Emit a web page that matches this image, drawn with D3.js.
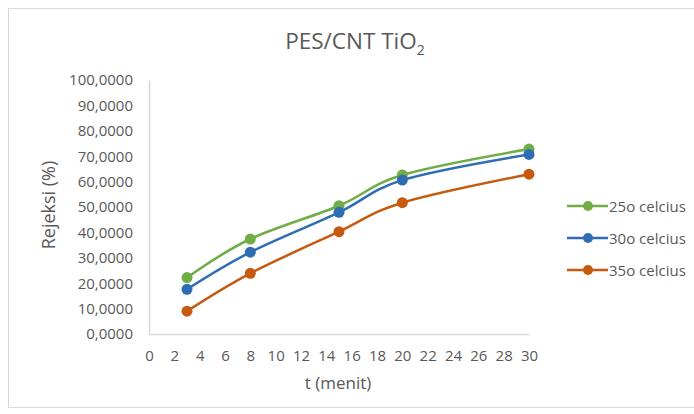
<!DOCTYPE html>
<html>
<head>
<meta charset="utf-8">
<script src="https://cdn.jsdelivr.net/npm/d3@7"></script>
<style>
  body { margin: 0; background: #fff; }
  svg { display: block; }
  text { font-family: "Open Sans", sans-serif; fill: #595959; }
</style>
</head>
<body>
<svg id="chart" width="694" height="414"></svg>
<script>
// Filtration time (minutes)
const times = [3, 8, 15, 20, 30];
// Rejection (%) per operating temperature
const rej25 = [22.2, 37.4, 50.5, 62.6, 72.8];
const rej30 = [17.6, 32.2, 47.9, 60.6, 70.7];
const rej35 = [9.0, 23.9, 40.3, 51.7, 62.9];
const seriesNames = ["25o celcius", "30o celcius", "35o celcius"];
const seriesColors = ["#70AD47", "#2E6DB4", "#C55A11"];
const xTicks = [0, 2, 4, 6, 8, 10, 12, 14, 16, 18, 20, 22, 24, 26, 28, 30];
const yTicks = [0, 10, 20, 30, 40, 50, 60, 70, 80, 90, 100];

const series = [rej25, rej30, rej35].map((vals, i) => ({
  name: seriesNames[i], color: seriesColors[i],
  points: vals.map((v, j) => ({ t: times[j], v }))
}));

const svg = d3.select("#chart");

// chart frame
svg.append("rect")
  .attr("x", 8.5).attr("y", 8.5).attr("width", 700).attr("height", 399)
  .attr("fill", "#fff").attr("stroke", "#d9d9d9");

const x = d3.scaleLinear().domain([0, 30]).range([149, 529]);
const y = d3.scaleLinear().domain([0, 100]).range([334, 80]);

// title
const title = svg.append("text")
  .attr("x", 355).attr("y", 49).attr("text-anchor", "middle")
  .style("font-size", "22.5px");
title.append("tspan").text("PES/CNT TiO");
title.append("tspan").text("2").attr("dy", 6).style("font-size", "14px");

// axes
const fmt = d => d3.format(".4f")(d).replace(".", ",");
const yAxis = svg.append("g").attr("transform", "translate(149,0)")
  .call(d3.axisLeft(y).tickValues(yTicks).tickFormat(fmt).tickSize(0).tickPadding(16));
const xAxis = svg.append("g").attr("transform", "translate(0,334)")
  .call(d3.axisBottom(x).tickValues(xTicks).tickFormat(d3.format("d")).tickSize(0).tickPadding(16));
[yAxis, xAxis].forEach(g => {
  g.select(".domain").attr("stroke", "#d9d9d9").attr("stroke-width", 1.5);
  g.selectAll("text").style("font-size", "15px").attr("fill", "#595959")
    .style("font-family", "'Open Sans', sans-serif");
});

// axis titles
svg.append("text")
  .attr("transform", "translate(55,205) rotate(-90)")
  .attr("text-anchor", "middle").style("font-size", "18px").text("Rejeksi (%)");
svg.append("text")
  .attr("x", 338).attr("y", 389).attr("text-anchor", "middle")
  .style("font-size", "17px").text("t (menit)");

// lines and markers
const line = d3.line().x(d => x(d.t)).y(d => y(d.v)).curve(d3.curveCardinal.tension(0));
series.forEach(s => {
  svg.append("path").datum(s.points)
    .attr("d", line).attr("fill", "none")
    .attr("stroke", s.color).attr("stroke-width", 2.5);
  svg.append("g").selectAll("circle").data(s.points).join("circle")
    .attr("cx", d => x(d.t)).attr("cy", d => y(d.v)).attr("r", 5.5)
    .attr("fill", s.color);
});

// legend
const legend = svg.append("g");
series.forEach((s, i) => {
  const ly = 206 + i * 32;
  legend.append("line").attr("x1", 567).attr("x2", 608)
    .attr("y1", ly).attr("y2", ly).attr("stroke", s.color).attr("stroke-width", 2.5);
  legend.append("circle").attr("cx", 588).attr("cy", ly).attr("r", 5).attr("fill", s.color);
  legend.append("text").attr("x", 609).attr("y", ly + 5.5)
    .style("font-size", "15px").text(s.name);
});
</script>
</body>
</html>
